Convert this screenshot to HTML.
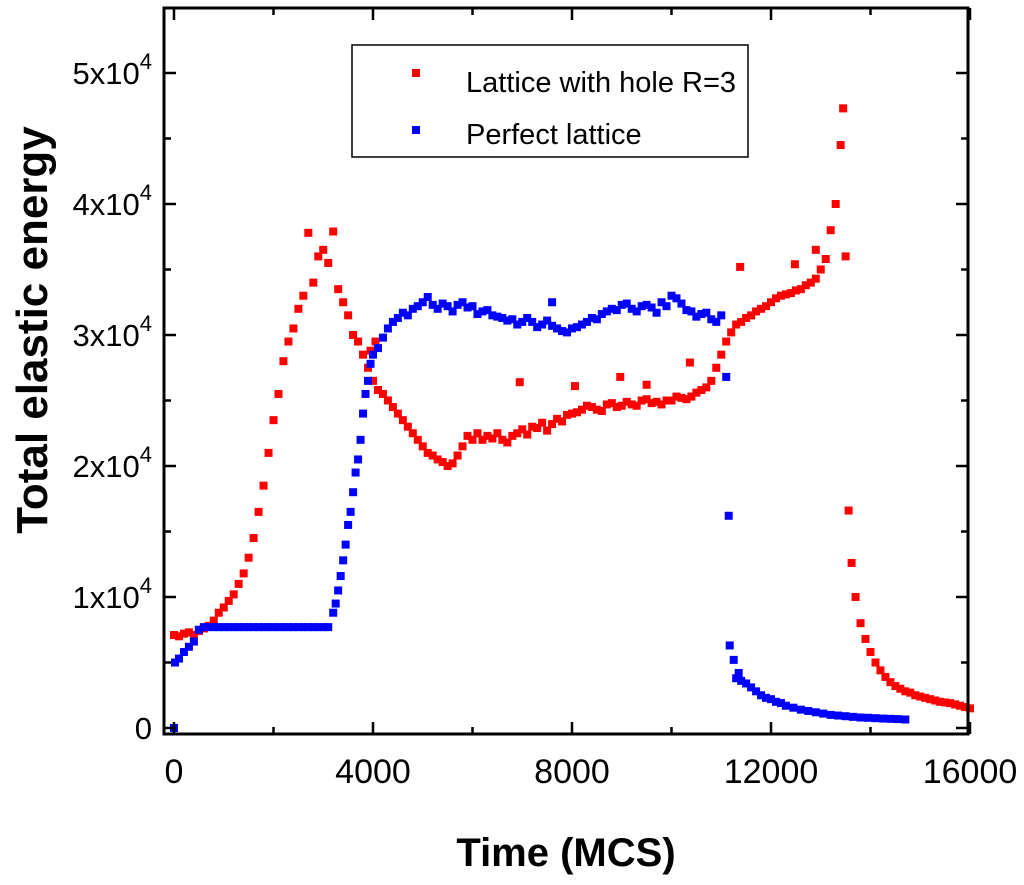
<!DOCTYPE html>
<html><head><meta charset="utf-8"><style>
html,body{margin:0;padding:0;background:#fff;}
svg{display:block;font-family:"Liberation Sans",Arial,sans-serif;}
</style></head><body>
<svg id="chart" width="1024" height="885" viewBox="0 0 1024 885">
<g id="marks"></g>
<g id="axes"></g>
</svg>
<script>
const redTime=[0,100,200,300,400,500,600,700,800,900,1000,1100,1200,1300,1400,1500,1600,1700,1800,1900,2000,2100,2200,2300,2400,2500,2600,2700,2800,2900,3000,3100,3200,3300,3400,3500,3600,3700,3800,3900,4000,4100,4200,4300,4400,4500,4600,4700,4800,4900,5000,5100,5200,5300,5400,5500,5600,5700,5800,5900,6000,6100,6200,6300,6400,6500,6600,6700,6800,6900,7000,7100,7200,7300,7400,7500,7600,7700,7800,7900,8000,8200,8400,8600,8800,9000,9200,9400,9600,9800,10000,10200,10400,10600,10800,10900,11000,11100,11200,11300,11400,11600,11800,12000,12200,12400,12600,12800,13000,13100,13200,13300,13400,13450,13500,13560,13620,13700,13800,13900,14000,14100,14200,14300,14400,14600,14800,15000,15200,15400,15600,15800,16000,6950,8060,8970,10370,11380,12480,12900,9500,4050,3950,8100,8300,8500,8700,8900,9100,9300,9500,9700,9900,10100,10300,10500,10700,11500,11700,11900,12100,12300,12500,12700,12900,14500,14700,14900,15100,15300,15500,15700,15900];
const redEnergy=[7100,7000,7200,7300,7100,7400,7600,7800,8200,8800,9200,9700,10200,11000,11800,13000,14500,16500,18500,21000,23500,25500,28000,29500,30500,32000,33000,37800,34000,36000,36500,35500,37900,33500,32500,31500,30000,29500,28500,27500,26500,25800,25500,25000,24500,24000,23500,23000,22500,22000,21500,21000,20800,20500,20300,20000,20200,20800,21500,22300,22000,22500,22000,22300,22100,22500,22000,21800,22300,22500,22800,22400,23000,22900,23300,22700,23200,23600,23400,23900,24000,24300,24500,24200,24800,24600,24700,25000,24800,24700,25000,25200,25300,25800,26500,27500,28500,29500,30200,30800,31000,31500,32000,32500,33000,33200,33500,34000,35000,35800,38000,40000,44500,47300,36000,16600,12600,10000,8000,6800,5800,5000,4400,3900,3500,3000,2700,2400,2200,2000,1900,1700,1500,26400,26100,26800,27900,35200,35400,36500,26200,29500,28800,24100,24600,24300,24700,24500,24900,24600,25100,24900,25000,25300,25100,25600,26000,31300,31800,32200,32800,33100,33400,33800,34300,3200,2800,2500,2300,2100,1950,1800,1600];
const blueTime=[0,20,100,200,300,400,500,600,700,800,900,1000,1100,1200,1300,1400,1500,1600,1700,1800,1900,2000,2100,2200,2300,2400,2500,2600,2700,2800,2900,3000,3100,3200,3250,3300,3350,3400,3450,3500,3550,3600,3650,3700,3750,3800,3850,3900,3950,4000,4100,4200,4300,4400,4500,4600,4700,4800,4900,5000,5100,5200,5300,5400,5500,5600,5700,5800,5900,6000,6200,6400,6600,6800,7000,7200,7400,7600,7800,8000,8200,8400,8600,8800,9000,9200,9400,9600,9800,10000,10200,10400,10600,10800,11000,11100,11150,11170,11250,11350,11500,11700,11900,12100,12300,12600,12900,13200,13500,13800,14100,14400,14700,7600,6100,6300,6500,6700,6900,7100,7300,7500,7700,7900,8100,8300,8500,8700,8900,9100,9300,9500,9700,9900,10100,10300,10500,10700,10900,11300,11400,11600,11800,12000,12200,12450,12750,13050,13350,13650,13950,14250,14550];
const blueEnergy=[0,5000,5300,5800,6200,6600,7500,7700,7700,7700,7700,7700,7700,7700,7700,7700,7700,7700,7700,7700,7700,7700,7700,7700,7700,7700,7700,7700,7700,7700,7700,7700,7700,8800,9500,10500,11600,12800,14000,15500,16500,18000,19500,20500,22000,24000,25500,26500,27800,28500,29000,29800,30500,31000,31300,31700,31500,32000,32200,32500,32900,32300,32000,32400,32200,31800,32300,32500,32100,32200,31800,31500,31300,31200,31000,31000,30800,30700,30300,30500,30800,31300,31600,32000,32300,32000,32200,32100,32500,33000,32400,31800,31600,31200,31500,26800,16200,6300,5200,4200,3400,2800,2300,2000,1700,1400,1200,1000,900,800,750,700,650,32500,31600,31900,31400,31100,30800,31300,30600,31100,30500,30200,30600,31000,31200,31800,31900,32400,31800,32300,31700,32200,32800,31900,31400,31700,31000,3800,3600,3100,2500,2200,1900,1550,1300,1100,950,850,780,720,680];
const xTicks=[0,4000,8000,12000,16000];
const xTickLabels=["0","4000","8000","12000","16000"];
const yTicks=[0,10000,20000,30000,40000,50000];
const yTickLabels=["0","1","2","3","4","5"];

const NS="http://www.w3.org/2000/svg";
const X0=174,XS=796/16000,Y0=728,YS=131/10000;
const L=164,R=968,T=8,B=734;
function sx(v){return X0+v*XS;}
function sy(v){return Y0-v*YS;}
function el(tag,attrs,parent){const e=document.createElementNS(NS,tag);for(const k in attrs)e.setAttribute(k,attrs[k]);parent.appendChild(e);return e;}
const marks=document.getElementById('marks'),axes=document.getElementById('axes');

function drawSeries(ts,vs,color,name){
  const g=el('g',{},marks);
  
  
  for(let i=0;i<ts.length;i++){
    const r=el('rect',{x:sx(ts[i])-4,y:sy(vs[i])-4,width:8,height:8,fill:color},g);
    
    
  }
}
drawSeries(redTime,redEnergy,'#ff0000','series-lattice-with-hole');
drawSeries(blueTime,blueEnergy,'#0000ff','series-perfect-lattice');

const frame=el('rect',{x:L,y:T,width:R-L,height:B-T,fill:'none',stroke:'#000','stroke-width':3},axes);



for(let i=0;i<xTicks.length;i++){
  const x=sx(xTicks[i]);
  el('line',{x1:x,y1:B,x2:x,y2:B-12,stroke:'#000','stroke-width':2.5},axes);
  el('line',{x1:x,y1:T,x2:x,y2:T+12,stroke:'#000','stroke-width':2.5},axes);
  if(i<xTicks.length-1){const xm=sx(xTicks[i]+2000);
    el('line',{x1:xm,y1:B,x2:xm,y2:B-7,stroke:'#000','stroke-width':2.5},axes);
    el('line',{x1:xm,y1:T,x2:xm,y2:T+7,stroke:'#000','stroke-width':2.5},axes);}
  const t=el('text',{x:x,y:783,'text-anchor':'middle','font-size':34,fill:'#000'},axes);
  t.textContent=xTickLabels[i];
  
  
}
for(let i=0;i<yTicks.length;i++){
  const y=sy(yTicks[i]);
  el('line',{x1:L,y1:y,x2:L+12,y2:y,stroke:'#000','stroke-width':2.5},axes);
  el('line',{x1:R,y1:y,x2:R-12,y2:y,stroke:'#000','stroke-width':2.5},axes);
  if(i<yTicks.length-1){const ym=sy(yTicks[i]+5000);
    el('line',{x1:L,y1:ym,x2:L+7,y2:ym,stroke:'#000','stroke-width':2.5},axes);
    el('line',{x1:R,y1:ym,x2:R-7,y2:ym,stroke:'#000','stroke-width':2.5},axes);}
  const t=el('text',{x:152,y:y+11,'text-anchor':'end','font-size':31,fill:'#000'},axes);
  
  
  if(yTicks[i]===0){t.textContent='0';}
  else{t.textContent=yTickLabels[i]+'x10';const s=el('tspan',{dy:-15,'font-size':22},t);s.textContent='4';}
}
</script>
<svg width="1024" height="885" style="position:absolute;left:0;top:0">
<g>
<rect x="352" y="45" width="396" height="112" fill="#fff" stroke="#000" stroke-width="1.5"/>
<rect x="412" y="69" width="8" height="8" fill="#ff0000"/>
<text x="466" y="92" font-size="29" font-family="Liberation Sans, Arial, sans-serif">Lattice with hole R=3</text>
<rect x="412" y="126" width="8" height="8" fill="#0000ff"/>
<text x="466" y="144" font-size="29" font-family="Liberation Sans, Arial, sans-serif">Perfect lattice</text>
</g>
<text x="566" y="866" text-anchor="middle" font-size="40" font-weight="bold" font-family="Liberation Sans, Arial, sans-serif">Time (MCS)</text>
<text transform="translate(47,330) rotate(-90)" text-anchor="middle" font-size="44" font-weight="bold" font-family="Liberation Sans, Arial, sans-serif">Total elastic energy</text>
</svg>
</body></html>
